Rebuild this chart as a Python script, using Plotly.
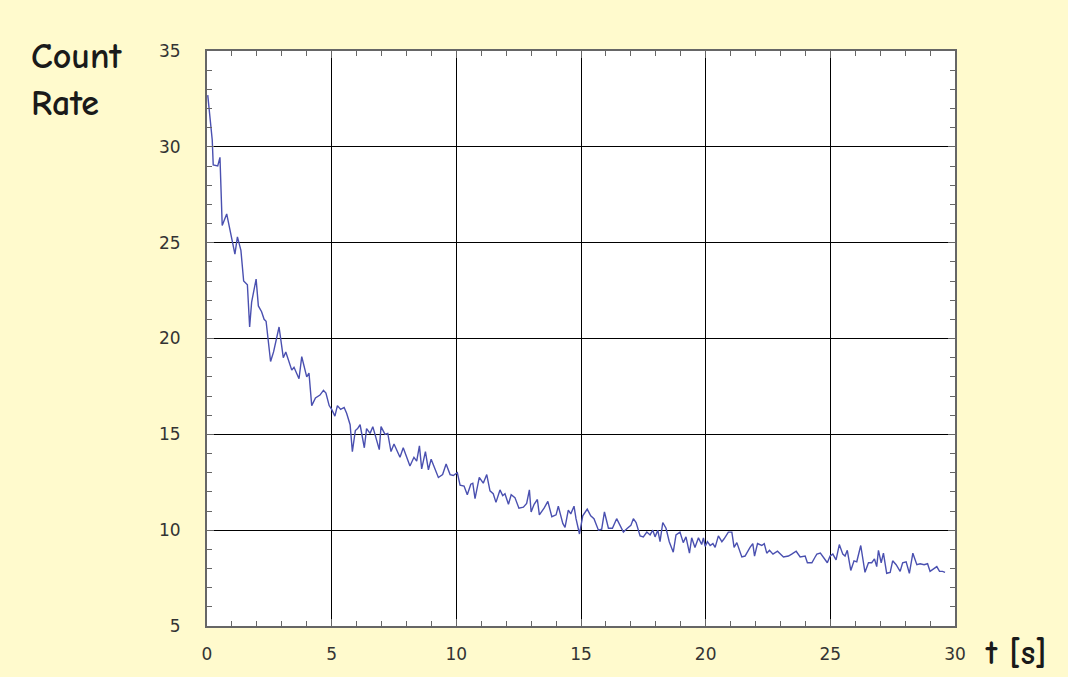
import plotly.graph_objects as go

t = [0.03, 0.21, 0.25, 0.43, 0.52, 0.61, 0.79, 1.12, 1.22, 1.36, 1.47, 1.62, 1.71, 1.79, 1.97,
     2.06, 2.19, 2.29, 2.37, 2.55, 2.67, 2.89, 3.06, 3.16, 3.40, 3.49, 3.69, 3.80, 4.00, 4.09,
     4.20, 4.35, 4.53, 4.67, 4.77, 4.90, 5.00, 5.13, 5.23, 5.36, 5.50, 5.60, 5.74, 5.83, 5.95,
     6.04, 6.14, 6.31, 6.40, 6.54, 6.65, 6.74, 6.91, 6.98, 7.14, 7.25, 7.38, 7.50, 7.74, 7.87,
     8.14, 8.30, 8.41, 8.52, 8.61, 8.76, 8.88, 8.99, 9.10, 9.28, 9.45, 9.59, 9.75, 9.88, 10.04,
     10.15, 10.31, 10.44, 10.58, 10.66, 10.75, 10.92, 11.08, 11.22, 11.35, 11.48, 11.59, 11.75,
     11.86, 11.95, 12.09, 12.20, 12.35, 12.51, 12.69, 12.82, 12.93, 13.00, 13.12, 13.25, 13.33,
     13.52, 13.67, 13.83, 14.00, 14.09, 14.27, 14.36, 14.49, 14.59, 14.72, 14.80, 14.94, 15.07,
     15.25, 15.39, 15.52, 15.70, 15.83, 15.94, 16.10, 16.26, 16.43, 16.57, 16.70, 16.86, 17.00,
     17.10, 17.21, 17.37, 17.50, 17.64, 17.77, 17.88, 17.97, 18.08, 18.17, 18.28, 18.41, 18.54,
     18.70, 18.81, 18.97, 19.10, 19.21, 19.35, 19.44, 19.57, 19.71, 19.84, 19.91, 19.98, 20.07,
     20.18, 20.29, 20.38, 20.51, 20.65, 20.74, 20.91, 21.05, 21.14, 21.25, 21.45, 21.58, 21.78,
     21.89, 21.96, 22.08, 22.25, 22.35, 22.45, 22.56, 22.70, 22.88, 23.12, 23.32, 23.45, 23.63,
     23.79, 23.99, 24.08, 24.26, 24.39, 24.46, 24.60, 24.72, 24.88, 24.99, 25.10, 25.23, 25.36,
     25.50, 25.59, 25.68, 25.82, 25.95, 26.06, 26.22, 26.39, 26.53, 26.66, 26.77, 26.86, 26.93,
     27.04, 27.13, 27.26, 27.40, 27.50, 27.64, 27.80, 27.90, 28.04, 28.17, 28.31, 28.47, 28.60,
     28.76, 28.90, 29.00, 29.14, 29.27, 29.38, 29.50, 29.60]

count_rate = [32.7, 30.36, 29.05, 29.0, 29.45, 25.9, 26.5, 24.4, 25.3, 24.6, 23.0, 22.8, 20.6, 21.9, 23.1,
              21.7, 21.4, 21.0, 20.9, 18.8, 19.3, 20.6, 19.0, 19.3, 18.35, 18.5, 17.9, 19.05, 18.0, 18.2,
              16.5, 16.9, 17.05, 17.3, 17.15, 16.5, 16.3, 15.95, 16.5, 16.3, 16.4, 16.1, 15.5, 14.1, 15.2,
              15.3, 15.5, 14.3, 15.3, 15.05, 15.4, 15.0, 14.2, 15.4, 15.0, 15.05, 14.1, 14.5, 13.8, 14.3,
              13.35, 13.8, 13.6, 14.4, 13.2, 14.1, 13.15, 13.7, 13.3, 12.75, 12.9, 13.45, 12.9, 12.85, 13.0,
              12.35, 12.3, 11.85, 12.4, 12.45, 11.65, 12.75, 12.45, 12.9, 12.05, 11.9, 11.45, 12.1,
              11.8, 11.9, 11.35, 11.85, 11.7, 11.15, 11.2, 11.4, 12.1, 10.95, 11.35, 11.6, 10.8,
              11.15, 11.5, 10.7, 10.8, 11.25, 10.35, 10.15, 11.05, 10.85, 11.25, 10.6, 9.8, 10.75,
              11.1, 10.75, 10.6, 10.0, 10.05, 10.95, 10.1, 10.1, 10.6, 10.25, 9.9, 10.1, 10.25,
              10.6, 10.4, 9.7, 9.65, 9.9, 9.75, 10.0, 9.65, 10.0, 9.4, 10.4, 10.1, 9.4,
              8.85, 9.75, 9.9, 9.35, 9.65, 8.8, 9.6, 9.1, 9.6, 9.25, 9.6, 9.15, 9.4,
              9.2, 9.3, 9.1, 9.7, 9.4, 9.55, 9.9, 9.9, 9.1, 9.35, 8.6, 8.65, 9.1,
              9.3, 8.65, 9.3, 9.2, 9.3, 8.8, 8.95, 8.75, 8.9, 8.6, 8.65, 8.75, 8.9,
              8.6, 8.65, 8.3, 8.3, 8.6, 8.75, 8.8, 8.6, 8.3, 8.65, 8.75, 8.45, 9.25,
              8.75, 8.65, 8.95, 7.9, 8.4, 8.35, 9.2, 7.8, 8.3, 8.3, 8.5, 8.1, 8.95,
              8.3, 8.8, 7.75, 7.8, 8.4, 8.2, 7.85, 8.3, 8.35, 7.75, 8.8, 8.2, 8.25,
              8.2, 8.25, 7.85, 8.0, 8.1, 7.85, 7.85, 7.8]

x_ticks = [0, 5, 10, 15, 20, 25, 30]
y_ticks = [5, 10, 15, 20, 25, 30, 35]

BG = "rgb(255,250,205)"
label_font = "Comic Sans MS, Comic Neue, Lato, sans-serif"

fig = go.Figure()
fig.add_trace(go.Scatter(x=t, y=count_rate, mode="lines",
                         line=dict(color="#4a50b0", width=1.4), showlegend=False,
                         hoverinfo="skip"))

axis_common = dict(
    showgrid=True, gridcolor="black", gridwidth=1.2,
    showline=True, linecolor="#666666", linewidth=2, mirror="allticks",
    ticks="inside", ticklen=7, tickcolor="#666666",
    tickfont=dict(family="DejaVu Sans, Liberation Sans, sans-serif", size=17, color="#333333"),
    zeroline=False,
)

fig.update_xaxes(range=[0, 30], tickvals=x_ticks, ticktext=[str(v) for v in x_ticks],
                 minor=dict(dtick=1, ticks="inside", ticklen=5, tickcolor="#666666", showgrid=False),
                 ticklabelstandoff=12, **axis_common)
fig.update_yaxes(range=[5, 35], tickvals=y_ticks, ticktext=[str(v) for v in y_ticks],
                 minor=dict(dtick=1, ticks="inside", ticklen=5, tickcolor="#666666", showgrid=False),
                 ticklabelstandoff=21, **axis_common)

fig.add_annotation(text="<b>Count</b><br><b>Rate</b>", xref="paper", yref="paper", x=-0.238, y=1.03,
                   xanchor="left", yanchor="top", showarrow=False, align="left",
                   font=dict(family=label_font, size=36, color="#1a1a1a"))
fig.add_annotation(text="<b>t [s]</b>", xref="paper", yref="paper", x=1.038, y=-0.085,
                   xanchor="left", yanchor="bottom", showarrow=False, align="left",
                   font=dict(family=label_font, size=34, color="#1a1a1a"))

fig.update_layout(
    width=1068, height=677,
    margin=dict(l=207, r=113, t=51, b=51),
    paper_bgcolor=BG, plot_bgcolor="white",
)

post = ("document.documentElement.style.margin='0';document.body.style.margin='0';"
        "document.body.style.padding='0';document.body.style.overflow='hidden';"
        "document.body.style.background='rgb(255,250,205)';")
fig.write_html("out.html", post_script=post, config={"displayModeBar": False})
